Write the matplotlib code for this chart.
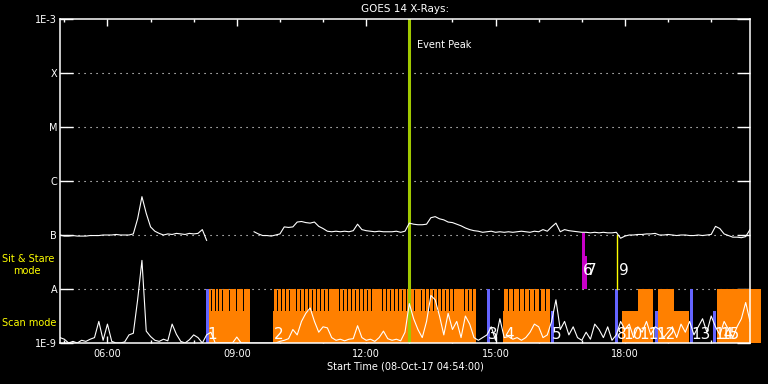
import numpy as np
import matplotlib
matplotlib.use('Agg')
import matplotlib.pyplot as plt

# time axis in decimal hours of 08-Oct-17
t_start, t_end = 4.9, 20.9
hours = np.round(t_start + 0.1 * np.arange(161), 2)

# GOES 14 1-8 A flux, log10(W/m^2), nan = data gap
long_flux = [
    -7.00, -7.02, -7.02, -7.01, -7.02, -7.02, -7.02, -7.01, -7.01, -7.01,
    -7.00, -7.00, -7.00, -6.99, -7.00, -7.00, -7.00, -6.98, -6.70, -6.29,
    -6.60, -6.85, -6.93, -6.97, -7.00, -6.98, -6.99, -6.97, -6.98, -6.99,
    -6.97, -6.98, -6.97, -6.90, -7.10, np.nan, np.nan, np.nan, np.nan, np.nan,
    np.nan, np.nan, np.nan, np.nan, np.nan, -6.94, -6.98, -7.01, -7.01, -7.02,
    -7.00, -6.98, -6.85, -6.86, -6.85, -6.76, -6.75, -6.77, -6.78, -6.76,
    -6.84, -6.88, -6.93, -6.94, -6.93, -6.94, -6.93, -6.94, -6.92, -6.80,
    -6.90, -6.92, -6.93, -6.94, -6.93, -6.94, -6.94, -6.94, -6.93, -6.95,
    -6.93, -6.78, -6.80, -6.81, -6.81, -6.80, -6.68, -6.66, -6.70, -6.72,
    -6.76, -6.77, -6.80, -6.83, -6.87, -6.90, -6.92, -6.93, -6.95, -6.94,
    -6.93, -6.95, -6.94, -6.95, -6.94, -6.95, -6.94, -6.93, -6.94, -6.95,
    -6.93, -6.94, -6.90, -6.93, -6.85, -6.78, -6.94, -6.90, -6.92, -6.93,
    -6.94, -6.95, -6.95, -6.96, -6.95, -6.96, -6.95, -6.96, -6.96, -6.95,
    -7.06, -7.02, -7.00, -7.00, -6.99, -6.99, -6.98, -6.98, -6.97, -7.00,
    -7.00, -6.99, -7.00, -7.01, -7.00, -7.00, -7.01, -7.01, -7.00, -7.01,
    -7.00, -6.99, -6.84, -6.88, -6.98, -7.01, -7.04, -7.04, -7.05, -7.03,
    -6.90]

# GOES 14 0.5-4 A flux, log10(W/m^2)
short_flux = [
    -8.90, -8.93, -9.00, -8.97, -9.00, -8.95, -8.97, -8.93, -8.90, -8.60,
    -8.95, -8.65, -8.97, -9.00, -9.00, -8.98, -8.85, -8.82, -8.20, -7.47,
    -8.78, -8.88, -8.95, -8.97, -8.93, -8.96, -8.65, -8.84, -8.97, -9.00,
    -8.94, -8.85, -8.90, -9.00, -8.85, -8.80, -9.00, -9.00, -9.00, -9.00,
    -9.00, -8.89, -9.00, -9.00, -9.00, -9.00, -9.00, -9.00, -9.00, -9.00,
    -9.00, -8.97, -8.95, -8.92, -8.75, -8.85, -8.60, -8.45, -8.35, -8.60,
    -8.80, -8.70, -8.72, -8.90, -8.95, -8.93, -8.96, -8.93, -8.92, -8.68,
    -8.90, -8.95, -8.93, -8.97, -8.90, -8.78, -8.92, -8.95, -8.93, -8.96,
    -8.80, -8.27, -8.55, -8.75, -8.90, -8.60, -8.12, -8.20, -8.50, -8.85,
    -8.45, -8.75, -8.60, -8.90, -8.50, -8.65, -8.90, -8.95, -8.90, -8.85,
    -8.70, -8.95, -8.55, -8.90, -8.88, -8.93, -8.90, -8.95, -8.90, -8.80,
    -8.65, -8.70, -8.90, -8.85, -8.60, -8.20, -8.75, -8.60, -8.85, -8.70,
    -8.90, -8.95, -8.80, -8.93, -8.65, -8.75, -8.90, -8.70, -8.95, -8.85,
    -8.60, -8.75, -8.65, -8.90, -8.70, -8.80, -8.60, -8.85, -8.70, -8.75,
    -8.90, -8.80, -8.70, -8.90, -8.65, -8.80, -8.60, -8.85, -8.70, -8.55,
    -8.80, -8.50, -8.70, -8.85, -8.60, -8.75, -8.90, -8.70, -8.55, -8.25,
    -8.60]

level_pos = [-9, -8, -7, -6, -5, -4, -3]
level_lab = ['1E-9', 'A', 'B', 'C', 'M', 'X', '1E-3']

hour_ticks = [6, 9, 12, 15, 18]
hour_labels = ['06:00', '09:00', '12:00', '15:00', '18:00']

event_peak = 13.0

# IRIS observations: start markers
marker_t = [8.29, 14.80, 16.29, 17.77, 18.70, 19.51, 20.04]
marker_top = [-8.0, -8.0, -8.4, -8.0, -8.4, -8.0, -8.4]

# scan mode blocks
block_t0 = [8.33, 9.84, 15.17, 17.93, 18.30, 18.77, 19.14, 20.135]
block_t1 = [9.31, 14.55, 16.26, 18.30, 18.65, 19.14, 19.49, 21.155]
block_top = [-8.4, -8.4, -8.4, -8.4, -8.0, -8.0, -8.4, -8.0]

# raster repeats drawn as comb teeth
comb_t0 = [8.33, 9.84, 15.17]
comb_t1 = [9.31, 14.55, 16.26]
comb_n = [12, 52, 9]

# sit & stare
sns_t0 = [17.00, 17.07]
sns_t1 = [17.07, 17.12]
sns_top = [-6.96, -7.39]
sns_line_t = 17.82

obs_labels = ['1', '2', '3', '4', '5', '6', '7', '8', '9', '10', '11', '12', '13', '14', '15']
obs_label_t = [8.31, 9.86, 14.82, 15.20, 16.31, 17.03, 17.12, 17.82, 17.86, 17.96, 18.33, 18.72, 19.53, 20.07, 20.21]
obs_label_row = ['scan', 'scan', 'scan', 'scan', 'scan', 'sns', 'sns', 'scan', 'sns', 'scan', 'scan', 'scan', 'scan', 'scan', 'scan']

orange = '#FF8000'
blue = '#6464FF'
magenta = '#C800C8'
green = '#A0C800'

fig = plt.figure(figsize=(7.68, 3.84), dpi=100, facecolor='black')
ax = fig.add_axes([60 / 768, 41 / 384, 690 / 768, 324 / 384], facecolor='black')
ax.set_xlim(t_start, t_end)
ax.set_ylim(-9, -3)

for lv in level_pos[1:-1]:
    ax.axhline(lv, color='white', lw=0.8, linestyle=(0, (1, 4.4)), zorder=1)

for t0, t1, top in zip(block_t0, block_t1, block_top):
    ax.fill_between([t0, t1], -9, top, color=orange, lw=0, zorder=2, clip_on=False)

for t0, t1, n in zip(comb_t0, comb_t1, comb_n):
    p = (t1 - t0) / n
    for k in range(n):
        ax.fill_between([t0 + k * p + 0.22 * p, t0 + (k + 1) * p], -8.4, -8.0,
                        color=orange, lw=0, zorder=2)

for t, top in zip(marker_t, marker_top):
    ax.fill_between([t, t + 0.07], -9, top, color=blue, lw=0, zorder=2)

for t0, t1, top in zip(sns_t0, sns_t1, sns_top):
    ax.fill_between([t0, t1], -8, top, color=magenta, lw=0, zorder=2)
ax.plot([sns_line_t, sns_line_t], [-8, -7], color='yellow', lw=1, zorder=3)

ax.axvline(event_peak, color=green, lw=2.2, zorder=3)
ax.text(event_peak + 0.18, -3.48, 'Event Peak', color='white', fontsize=7, va='center')

ax.plot(hours, long_flux, color='white', lw=0.8, zorder=4)
ax.plot(hours, np.clip(short_flux, -9, None), color='white', lw=0.8, zorder=4)

for lab, t, row in zip(obs_labels, obs_label_t, obs_label_row):
    y = -8.99 if row == 'scan' else -7.8
    ax.text(t, y, lab, color='white', fontsize=11, family='Liberation Sans Narrow',
            va='bottom', ha='left', zorder=5)

ax.set_yticks(level_pos)
ax.set_yticklabels(level_lab)
ax.set_xticks(hour_ticks)
ax.set_xticklabels(hour_labels)
ax.set_xticks(np.arange(5, 21), minor=True)
ax.tick_params(axis='y', direction='in', length=9.5, width=1, colors='white',
               left=True, right=True, labelsize=7, pad=2)
ax.tick_params(axis='x', which='major', direction='in', length=5, width=1, colors='white',
               top=True, bottom=True, labelsize=7, pad=4)
ax.tick_params(axis='x', which='minor', direction='in', length=2.5, width=1, colors='white',
               top=True, bottom=True)
for s in ax.spines.values():
    s.set_color('white')
    s.set_linewidth(1.1)
    s.set_zorder(6)

ax.set_xlabel('Start Time (08-Oct-17 04:54:00)', color='white', fontsize=7, labelpad=2)
fig.text(405 / 768, 1 - 9 / 384, 'GOES 14 X-Rays:', color='white', fontsize=7.5,
         ha='center', va='center')
fig.text(2 / 768, 1 - 259 / 384, 'Sit & Stare', color='yellow', fontsize=7, va='center')
fig.text(13 / 768, 1 - 271.5 / 384, 'mode', color='yellow', fontsize=7, va='center')
fig.text(2 / 768, 1 - 323.5 / 384, 'Scan mode', color='yellow', fontsize=7, va='center')

fig.savefig('out.png', dpi=100, facecolor='black')
